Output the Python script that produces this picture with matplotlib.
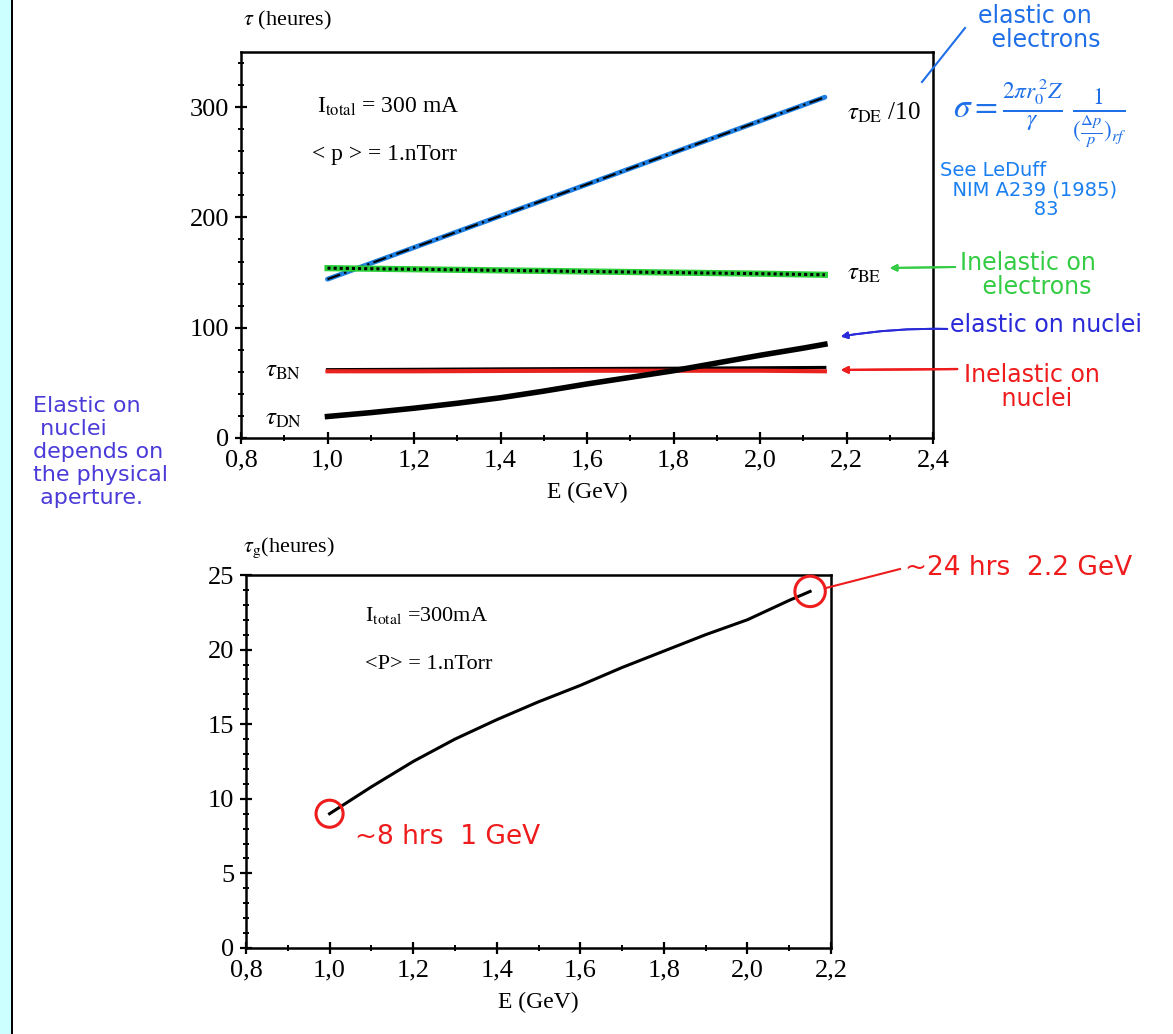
import matplotlib
matplotlib.use("Agg")
import matplotlib.pyplot as plt
from matplotlib.ticker import MultipleLocator, FuncFormatter
from matplotlib.patches import Rectangle

# ---- data ----
E = [1.0, 1.2, 1.4, 1.6, 1.8, 2.0, 2.15]
tau_DE10 = [144, 172.7, 201.4, 230, 258.8, 287.5, 309]
tau_BE = [154, 153, 152, 151, 150, 149, 148]
tau_BN = [62, 62.3, 62.7, 63, 63.3, 63.7, 64]
tau_BN_marker = [60.5, 60.5, 60.8, 61, 61, 61, 60.5]   # red highlight drawn over tau_BN

E_fine = [1.0, 1.1, 1.2, 1.3, 1.4, 1.5, 1.6, 1.7, 1.8, 1.9, 2.0, 2.1, 2.15]
tau_DN = [19.5, 23, 27, 31.5, 36.5, 42.5, 49, 55, 61, 68, 75, 81.5, 85]
tau_g = [9.0, 10.8, 12.5, 14.0, 15.3, 16.5, 17.6, 18.8, 19.9, 21.0, 22.0, 23.3, 23.9]

top_xticks = [0.8, 1.0, 1.2, 1.4, 1.6, 1.8, 2.0, 2.2, 2.4]
top_yticks = [0, 100, 200, 300]
bot_xticks = [0.8, 1.0, 1.2, 1.4, 1.6, 1.8, 2.0, 2.2]
bot_yticks = [0, 5, 10, 15, 20, 25]

W, H = 1173, 1034
plt.rcParams['font.family'] = ['Liberation Serif', 'DejaVu Serif']
plt.rcParams['mathtext.fontset'] = 'stix'

fig = plt.figure(figsize=(W / 100, H / 100), dpi=100)
fig.patch.set_facecolor('white')


def fx(px):
    return px / W


def fy(py):
    return 1 - py / H


# left cyan strip of the slide
fig.patches.append(Rectangle((0, 0), fx(11), 1, transform=fig.transFigure,
                             facecolor='#ccffff', edgecolor='none'))
fig.patches.append(Rectangle((fx(11), 0), fx(1.5), 1, transform=fig.transFigure,
                             facecolor='black', edgecolor='none'))

comma = FuncFormatter(lambda v, p: f"{v:.1f}".replace('.', ','))


def style_axes(ax, xmaj, xmin, ymaj, ymin):
    ax.xaxis.set_major_locator(MultipleLocator(xmaj))
    ax.xaxis.set_minor_locator(MultipleLocator(xmin))
    ax.yaxis.set_major_locator(MultipleLocator(ymaj))
    ax.yaxis.set_minor_locator(MultipleLocator(ymin))
    ax.xaxis.set_major_formatter(comma)
    ax.tick_params(which='major', direction='inout', length=9, width=1.6, labelsize=19, pad=4)
    ax.tick_params(which='minor', direction='inout', length=5, width=1.4)
    for s in ax.spines.values():
        s.set_linewidth(1.8)


# ---------------- top chart ----------------
ax1 = fig.add_axes([fx(241), fy(438), fx(933 - 241), (438 - 52) / H])
ax1.plot(E, tau_DE10, color='#1f7fe0', lw=3.5, solid_capstyle='round')
ax1.plot(E, tau_DE10, color='black', lw=1.6, ls=(0, (6, 2, 1, 2)))
ax1.plot(E, tau_BE, color='#2ccf3a', lw=4.5)
ax1.plot(E, tau_BE, color='black', lw=2.2, ls=(0, (1, 1)))
ax1.plot(E, tau_BN, color='black', lw=2.2)
ax1.plot(E, tau_BN_marker, color='#e8231e', lw=3)
ax1.plot(E_fine, tau_DN, color='black', lw=4)
ax1.set_xlim(0.8, 2.4)
ax1.set_ylim(0, 350)
ax1.set_xticks(top_xticks)
ax1.set_yticks(top_yticks)
style_axes(ax1, 0.2, 0.1, 100, 20)
ax1.set_xlabel('E (GeV)', fontsize=17, labelpad=7)

ax1.text(0.975, 300, r'I$_{\rm total}$ = 300 mA', fontsize=17, va='center')
ax1.text(0.965, 257, r'< p > = 1.nTorr', fontsize=17, va='center')
ax1.text(2.2, 295, r'$\tau_{\mathrm{DE}}$ /10', fontsize=18, va='center')
ax1.text(2.2, 149, r'$\tau_{\mathrm{BE}}$', fontsize=18, va='center')
ax1.text(0.855, 61, r'$\tau_{\mathrm{BN}}$', fontsize=18, va='center')
ax1.text(0.855, 17, r'$\tau_{\mathrm{DN}}$', fontsize=18, va='center')
fig.text(fx(243), fy(20), r'$\tau$ (heures)', fontsize=16, va='center')

# ---------------- bottom chart ----------------
ax2 = fig.add_axes([fx(246), fy(948), fx(831 - 246), (948 - 575) / H])
ax2.plot(E_fine, tau_g, color='black', lw=2.2)
ax2.scatter([E_fine[0], E_fine[-1]], [tau_g[0], tau_g[-1]], s=[380, 480], facecolor='none',
            edgecolor='#ee1c1c', linewidth=2.2, zorder=5, clip_on=False)
ax2.set_xlim(0.8, 2.2)
ax2.set_ylim(0, 25)
ax2.set_xticks(bot_xticks)
ax2.set_yticks(bot_yticks)
style_axes(ax2, 0.2, 0.1, 5, 1)
ax2.set_xlabel('E (GeV)', fontsize=17, labelpad=7)
ax2.text(1.085, 22.3, r'I$_{\rm total}$ =300mA', fontsize=16, va='center')
ax2.text(1.085, 19.0, r'<P> = 1.nTorr', fontsize=16, va='center')
fig.text(fx(243), fy(548), r'$\tau_{\rm g}$(heures)', fontsize=16, va='center')

# ---------------- handwritten notes ----------------
hand = dict(family=['DejaVu Sans'], fontsize=17)
red = '#ee1c1c'
blue = '#1f6fe8'
green = '#33cc44'
navy = '#2a2ad8'
purple = '#4a3ad8'

fig.text(fx(355), fy(837), '~8 hrs  1 GeV', color=red, va='center', family=['DejaVu Sans'],
         fontsize=19)
fig.text(fx(905), fy(568), '~24 hrs  2.2 GeV', color=red, va='center', family=['DejaVu Sans'],
         fontsize=19)
fig.add_artist(plt.Line2D([fx(826), fx(900)], [fy(588), fy(569)],
                          transform=fig.transFigure, color=red, lw=1.5))

fig.text(fx(1035), fy(28), 'elastic on\n   electrons', color=blue, va='center',
         ha='center', linespacing=0.95, **hand)
fig.add_artist(plt.Line2D([fx(922), fx(965)], [fy(82), fy(28)],
                          transform=fig.transFigure, color=blue, lw=1.5))
fig.text(fx(953), fy(113), r'$\sigma = \frac{2\pi r_0^{\,2} Z}{\gamma}\ \frac{1}{(\frac{\Delta p}{p})_{rf}}$',
         color=blue, va='center', fontsize=24)
fig.text(fx(940), fy(190), 'See LeDuff\n  NIM A239 (1985)\n               83', color='#1a7ff0',
         va='center', linespacing=1.05, family=['DejaVu Sans'], fontsize=14)

fig.text(fx(960), fy(275), 'Inelastic on\n   electrons', color=green, va='center',
         linespacing=0.95, **hand)
fig.add_artist(plt.annotate('', xy=(887, H - 268), xytext=(958, H - 267),
                            xycoords='figure pixels', textcoords='figure pixels',
                            arrowprops=dict(arrowstyle='-|>', color=green, lw=1.4)))

fig.text(fx(950), fy(325), 'elastic on nuclei', color=navy, va='center', **hand)
fig.add_artist(plt.annotate('', xy=(838, H - 337), xytext=(950, H - 329),
                            xycoords='figure pixels', textcoords='figure pixels',
                            arrowprops=dict(arrowstyle='-|>', color=navy, lw=1.4,
                                            connectionstyle='arc3,rad=0.05')))

fig.text(fx(964), fy(387), 'Inelastic on\n     nuclei', color=red, va='center',
         linespacing=0.95, **hand)
fig.add_artist(plt.annotate('', xy=(838, H - 370), xytext=(960, H - 369),
                            xycoords='figure pixels', textcoords='figure pixels',
                            arrowprops=dict(arrowstyle='-|>', color=red, lw=1.6)))

fig.text(fx(33), fy(452), 'Elastic on\n nuclei\ndepends on\nthe physical\n aperture.',
         color=purple, va='center', linespacing=1.2, family=['DejaVu Sans'], fontsize=16)

fig.savefig('out.png', dpi=100, facecolor='white')
